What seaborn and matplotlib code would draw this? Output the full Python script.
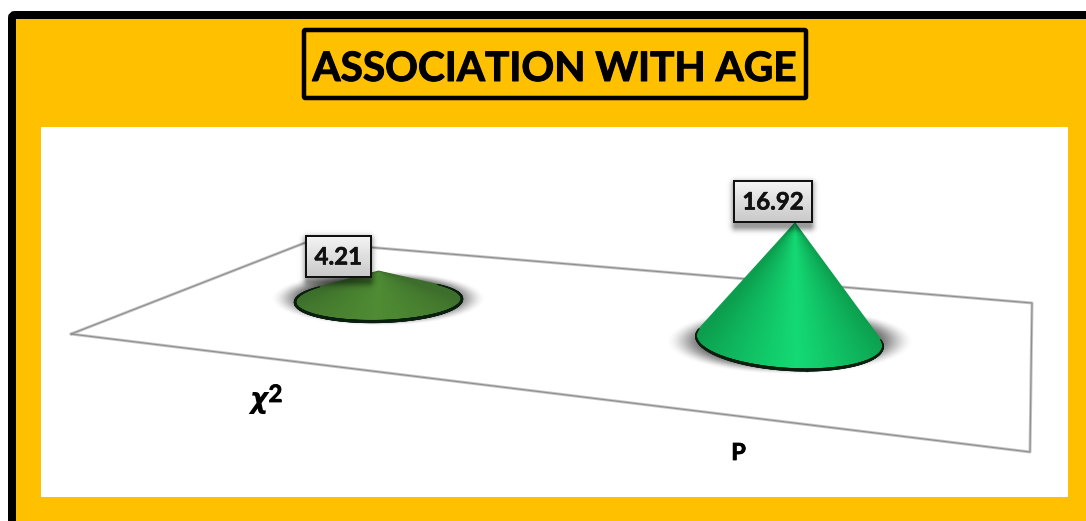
import numpy as np
import pandas as pd
import matplotlib
matplotlib.use("Agg")
import matplotlib.pyplot as plt
import matplotlib.patheffects as pe
from matplotlib.collections import LineCollection
from matplotlib.colors import to_rgb
from matplotlib.patches import FancyBboxPatch, Polygon, Rectangle
import seaborn as sns

# Chart values
title_text = "ASSOCIATION WITH AGE"
categories = ["χ", "P"]
values = [4.21, 16.92]
value_labels = ["4.21", "16.92"]

# Pixels of cone height per unit of value
PX_PER_UNIT = 6.97

sns.set_theme(style="white")
plt.rcParams["font.family"] = ["Lato", "DejaVu Sans"]

W, H = 1086, 521
fig = plt.figure(figsize=(W / 100, H / 100), dpi=100, facecolor="white")
ax = fig.add_axes([0, 0, 1, 1])
ax.set_axis_off()


def px(n):
    return n * 0.72


def heavy(width, color="black"):
    """Stroke that thickens a bold label a little."""
    return [pe.withStroke(linewidth=px(width), foreground=color)]


def soft_shadow(cx, cy, a, b, strength, zorder, color="#2a2a2a"):
    """Blurred elliptical ground shadow."""
    x0, x1, y0, y1 = cx - a * 1.4, cx + a * 1.4, cy - b * 1.6, cy + b * 1.6
    xs = np.linspace(x0, x1, 300)
    ys = np.linspace(y0, y1, 200)
    xx, yy = np.meshgrid(xs, ys)
    d = np.hypot((xx - cx) / a, (yy - cy) / b)
    t = np.clip((1.02 - d) / 0.36, 0, 1)
    alpha = strength * t * t * (3 - 2 * t)
    rgba = np.zeros(alpha.shape + (4,))
    rgba[..., :3] = to_rgb(color)
    rgba[..., 3] = alpha
    ax.imshow(rgba, extent=(x0, x1, y1, y0), aspect="auto",
              interpolation="bilinear", zorder=zorder)


def box_shadow(x0, y0, x1, y1, dy, spread, strength, zorder):
    """Blurred drop shadow beneath a label box."""
    gx0, gx1, gy0, gy1 = x0 - 2 * spread, x1 + 2 * spread, y0 - 2 * spread, y1 + dy + 2 * spread
    xs = np.linspace(gx0, gx1, 160)
    ys = np.linspace(gy0, gy1, 120)
    xx, yy = np.meshgrid(xs, ys)
    dx = np.maximum(np.abs(xx - (x0 + x1) / 2) - (x1 - x0) / 2 + 2, 0)
    dv = np.maximum(np.abs(yy - (y0 + y1) / 2 - dy) - (y1 - y0) / 2, 0)
    alpha = strength * np.exp(-(np.hypot(dx, dv) / spread) ** 2)
    rgba = np.zeros(alpha.shape + (4,))
    rgba[..., 3] = alpha
    ax.imshow(rgba, extent=(gx0, gx1, gy1, gy0), aspect="auto",
              interpolation="bilinear", zorder=zorder)


def convex_hull(points):
    pts = sorted(map(tuple, points))

    def half(seq):
        out = []
        for p in seq:
            while len(out) > 1 and (
                (out[-1][0] - out[-2][0]) * (p[1] - out[-2][1])
                - (out[-1][1] - out[-2][1]) * (p[0] - out[-2][0])
            ) <= 0:
                out.pop()
            out.append(p)
        return out[:-1]

    return np.array(half(pts) + half(pts[::-1]))


def draw_cone(value, cx, cy, rx, ry, tilt, apex_dx, edge_col, mid_col, mid_u, zorder):
    """Cone whose height follows its value, standing on a flat elliptical base."""
    apex = np.array([cx + apex_dx, cy - value * PX_PER_UNIT])
    t = np.linspace(0, 2 * np.pi, 721)[:-1] + np.pi / 2
    ex = cx + rx * np.cos(t)
    ey = cy + ry * np.sin(t) + tilt * rx * np.cos(t)
    ellipse = np.column_stack([ex, ey])
    hull = convex_hull(np.vstack([ellipse, apex]))
    hull_set = {tuple(p) for p in hull}
    on_hull = np.array([tuple(p) in hull_set for p in ellipse])

    # Shading runs across the cone along rulings from the apex
    x0, x1 = cx - rx - 3, cx + rx + 3
    y0, y1 = apex[1] - 3, cy + ry + abs(tilt) * rx + 3
    xs = np.linspace(x0, x1, 420)
    ys = np.linspace(y0, y1, 260)
    xx, yy = np.meshgrid(xs, ys)
    frac = np.maximum((yy - apex[1]) / (cy - apex[1]), 0.05)
    u = np.clip((xx - apex[0] - (cx - apex[0]) * frac) / (rx * frac), -1, 1)
    weight = np.where(u < mid_u, (u + 1) / (mid_u + 1), (1 - u) / (1 - mid_u))
    c0, c1 = np.array(to_rgb(edge_col)), np.array(to_rgb(mid_col))
    rgb = c0 + (c1 - c0) * weight[..., None]
    im = ax.imshow(rgb, extent=(x0, x1, y1, y0), aspect="auto",
                   interpolation="bilinear", zorder=zorder)
    clip = Polygon(hull, closed=True, transform=ax.transData)
    im.set_clip_path(clip)
    ax.add_patch(Polygon(hull, closed=True, fill=False, edgecolor=edge_col,
                         linewidth=px(1.2), zorder=zorder + 0.1))

    # Dark rim along the visible part of the base, tapering towards its ends
    start = np.where(~on_hull)[0][-1] + 1
    rim = np.roll(ellipse, -start, axis=0)[: on_hull.sum()]
    rim = rim[np.argsort(np.unwrap(np.arctan2(rim[:, 1] - cy, rim[:, 0] - cx)))]
    segments = np.stack([rim[:-1], rim[1:]], axis=1)
    s = np.linspace(0, 1, len(segments))
    widths = px(0.8 + 2.4 * np.sin(np.pi * s) ** 0.6)
    ax.add_collection(LineCollection(segments, colors="#0a1f10", linewidths=widths,
                                     capstyle="round", zorder=zorder + 0.2))


def value_box(text, x0, y0, x1, y1, zorder):
    box_shadow(x0, y0, x1, y1, 4, 5, 0.4, zorder - 0.2)
    grad = np.linspace(0, 1, 64)[:, None, None]
    top, bottom = np.array(to_rgb("#f4f4f4")), np.array(to_rgb("#c9c9c9"))
    rgb = top + (bottom - top) * grad
    ax.imshow(rgb, extent=(x0, x1, y1, y0), aspect="auto",
              interpolation="bilinear", zorder=zorder)
    ax.add_patch(Rectangle((x0, y0), x1 - x0, y1 - y0, fill=False, edgecolor="#111111",
                           linewidth=px(2), zorder=zorder + 0.1))
    ax.text((x0 + x1) / 2, (y0 + y1) / 2 + 0.5, text, ha="center", va="center",
            fontsize=px(24), fontweight="bold", color="#111111", zorder=zorder + 0.2,
            path_effects=heavy(0.6, "#111111"))


# Panel: yellow card with a thick black edge, white plotting area
ax.add_patch(FancyBboxPatch((12, 15), 1300, 800, boxstyle="round,pad=0,rounding_size=3",
                            facecolor="#FFC000", edgecolor="black", linewidth=px(8), zorder=0))
ax.add_patch(Rectangle((41, 127), 1027, 370, facecolor="white", edgecolor="none", zorder=1))

# Title in a black outlined box
ax.add_patch(FancyBboxPatch((304, 30), 502, 68, boxstyle="round,pad=0,rounding_size=1.5",
                            facecolor="none", edgecolor="black", linewidth=px(4.5), zorder=2))
ax.text(554.5, 81, title_text, ha="center", va="baseline", fontsize=px(40.6),
        fontweight="bold", color="black", zorder=3, path_effects=heavy(1))

# Floor plane of the chart
floor = pd.DataFrame({
    "x": [71, 307, 1032, 1030, 71],
    "y": [334, 242, 303, 452, 334],
})
sns.lineplot(data=floor, x="x", y="y", sort=False, estimator=None, ax=ax,
             color="#c8c8c8", linewidth=px(3), zorder=2)
sns.lineplot(data=floor, x="x", y="y", sort=False, estimator=None, ax=ax,
             color="#8f8f8f", linewidth=px(1.2), zorder=2.1)

# Ground shadows and cones
soft_shadow(378, 299, 106, 27, 0.75, 3)
draw_cone(values[0], 378.5, 300.5, 83.5, 21, -0.02, 0, "#3d6e2c", "#4f8c33", 0.0, 4)
soft_shadow(790, 341, 122, 33, 0.75, 3)
draw_cone(values[1], 789.5, 341, 93.5, 28.5, 0.055, 5.5, "#0c9e4e", "#14da74", 0.08, 4)

# Category labels below the floor
ax.text(249, 408, categories[0], ha="left", va="baseline", fontsize=px(28),
        fontweight="bold", fontstyle="italic", family="DejaVu Sans",
        color="black", zorder=5)
ax.text(268.5, 402, "2", ha="left", va="baseline", fontsize=px(24), fontweight="bold",
        color="black", zorder=5, path_effects=heavy(0.8))
ax.text(738.5, 460, categories[1], ha="center", va="baseline", fontsize=px(23.5),
        fontweight="bold", color="black", zorder=5, path_effects=heavy(0.8))

# Value labels at the cone tips
value_box(value_labels[0], 306, 236, 370.5, 277, 7)
value_box(value_labels[1], 734, 181, 812, 222, 7)

ax.set_xlim(0, W)
ax.set_ylim(H, 0)
ax.set_xlabel("")
ax.set_ylabel("")
fig.savefig("out.png", dpi=100)
